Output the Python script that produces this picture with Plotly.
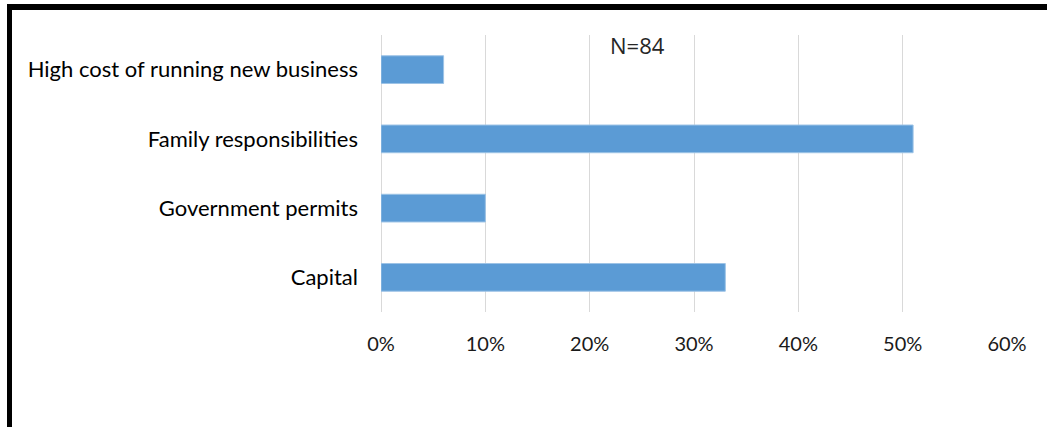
import plotly.graph_objects as go

# Survey results: challenges faced (share of respondents)
categories = ["Capital", "Government permits", "Family responsibilities",
              "High cost of running new business"]
shares = [33, 10, 51, 6]
x_ticks = [0, 10, 20, 30, 40, 50, 60]
x_tick_text = ["0%", "10%", "20%", "30%", "40%", "50%", "60%"]
note = "N=84"

W, H = 1047, 427
ML, MR, MT, MB = 381, 40, 35, 115
PW, PH = W - ML - MR, H - MT - MB


def px_x(p):
    return (p - ML) / PW


def px_y(p):
    return 1 - (p - MT) / PH


fig = go.Figure(go.Bar(
    x=shares, y=categories, orientation="h",
    marker=dict(color="#5b9bd5", line=dict(color="#9dc3e6", width=1)),
    width=0.4,
))

fig.update_layout(
    width=W, height=H,
    margin=dict(l=ML, r=MR, t=MT, b=MB),
    paper_bgcolor="white", plot_bgcolor="white",
    showlegend=False,
    font=dict(family="Lato, sans-serif", color="#000000"),
    xaxis=dict(range=[0, 60], tickvals=x_ticks, ticktext=x_tick_text,
               showgrid=True, gridcolor="#d9d9d9", gridwidth=1,
               zeroline=True, zerolinecolor="#d9d9d9", zerolinewidth=1,
               showline=False, ticks="", ticklabelstandoff=18,
               tickfont=dict(size=20, color="#1a1a1a")),
    yaxis=dict(range=[-0.5, 3.5], showgrid=False, zeroline=False, showline=False,
               ticks="", ticklabelstandoff=22,
               tickfont=dict(size=22, color="#000000")),
)

fig.add_annotation(text=note, xref="paper", yref="paper",
                   x=px_x(637), y=px_y(45), xanchor="center", yanchor="middle",
                   showarrow=False,
                   font=dict(family="Open Sans, sans-serif", size=22, color="#262626"))

# Black frame along the left and top edges
fig.add_shape(type="rect", xref="paper", yref="paper",
              x0=px_x(7), x1=px_x(12), y0=px_y(427), y1=px_y(4),
              fillcolor="black", line=dict(width=0), layer="above")
fig.add_shape(type="rect", xref="paper", yref="paper",
              x0=px_x(7), x1=px_x(1047), y0=px_y(10), y1=px_y(4),
              fillcolor="black", line=dict(width=0), layer="above")

fig.write_html("out.html")
